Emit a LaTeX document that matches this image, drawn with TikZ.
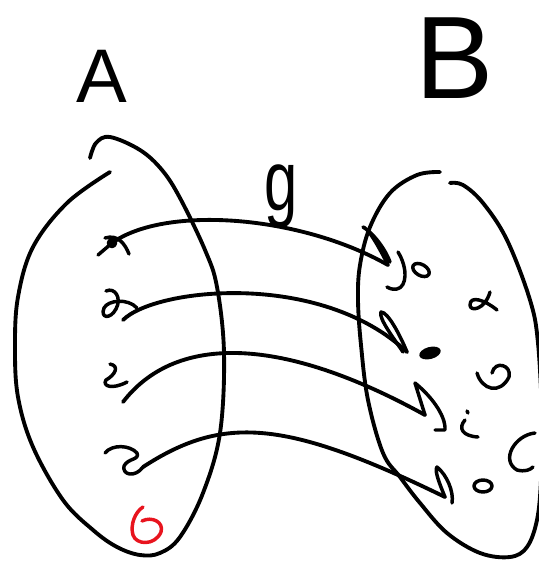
\documentclass[tikz,border=0pt]{standalone}
\usepackage{fontspec}
\setmainfont{Liberation Sans}
\definecolor{inkred}{HTML}{E8141E}
\begin{document}
\begin{tikzpicture}[x=0.75pt,y=-0.75pt,
  ink/.style={line width=2.9pt,line cap=round,line join=round},
  scrib/.style={line width=2.6pt,line cap=round,line join=round},
  lbl/.style={inner sep=0pt,outer sep=0pt}]
\useasboundingbox (0,0) rectangle (539,562);
% labels
\node[lbl,font=\fontsize{57}{60}\selectfont] (labA) at (102,76) {A};
\node[lbl,font=\fontsize{88}{96}\selectfont] (labB) at (455,58) {B};
\node[lbl,font=\fontsize{64}{70}\selectfont,xscale=0.7] (labg) at (281,196) {g};
\begin{scope}
\clip (0,0) rectangle (539,562);
% set A
\draw[ink] plot[smooth,tension=0.6] coordinates {(90,158) (96,143) (110,137) (140,150) (162,170) (180,198) (205,250) (217,287) (224,353) (220,433) (203,493) (180,537) (160,553) (140,555) (117,547) (93,530) (63,500) (33,447) (18,397) (15,347) (18,297) (33,247) (67,203) (110,172)};
% set B
\draw[ink] plot[smooth,tension=0.6] coordinates {(440,172) (417,175) (390,193) (370,227) (360,265) (358,300) (361,345) (368,400) (383,453) (400,477) (420,503) (447,533) (480,553) (510,557) (527,547) (537,520) (541,480) (542,420) (538,343) (530,300) (507,240) (483,203) (463,185) (450,183)};
% element coordinates
\coordinate (a1) at (112,243);
\coordinate (a2) at (123,320);
\coordinate (a3) at (123,402);
\coordinate (a4) at (143,467);
\coordinate (b1) at (388,265);
\coordinate (b2) at (407,352);
\coordinate (b3) at (425,415);
\coordinate (b4) at (445,497);
% left scribbles
\draw[scrib] (98,255) -- (a1);
\draw[scrib] (a1) circle[radius=3.5];
\draw[scrib] (105,238) .. controls (118,234) and (125,244) .. (129,254);
\draw[scrib] (106,291) .. controls (115,287) and (122,298) .. (116,309) .. controls (110,320) and (100,318) .. (104,308) .. controls (108,300) and (128,298) .. (137,308);
\draw[scrib] (110,364) .. controls (120,366) and (115,375) .. (106,380) .. controls (102,386) and (112,390) .. (127,382);
\draw[scrib] (105,453) .. controls (112,444) and (130,445) .. (137,453) .. controls (140,460) and (128,458) .. (124,466) .. controls (122,475) and (135,478) .. (a4);
\draw[scrib,inkred] (143,507) .. controls (135,512) and (130,525) .. (133,535) .. controls (136,545) and (155,546) .. (161,532) .. controls (164,522) and (152,516) .. (142,521);
% mapping g
\draw[ink] (a1) .. controls (165,205) and (300,215) .. (b1);
\draw[ink] (a2) .. controls (155,288) and (320,270) .. (b2);
\draw[ink] (a3) .. controls (173,337) and (275,332) .. (b3);
\draw[ink] (a4) .. controls (223,415) and (285,419) .. (b4);
% hooks
\draw[scrib] (b1) .. controls (378,245) and (368,228) .. (363,227) .. controls (372,232) and (385,248) .. (390,262);
\draw[scrib] (b2) .. controls (400,335) and (388,312) .. (381,312) .. controls (378,318) and (395,340) .. (403,352);
\draw[scrib] (b3) -- (415,383) .. controls (430,395) and (446,415) .. (445,430) -- (435,430);
\draw[scrib] (b4) .. controls (440,485) and (434,470) .. (437,467) .. controls (447,475) and (454,492) .. (452,503);
% right scribbles
\draw[scrib] (398,252) .. controls (408,268) and (407,287) .. (397,289) .. controls (392,290) and (389,288) .. (387,287);
\draw[scrib] (421,270) ellipse[x radius=9,y radius=5.5,rotate=-30];
\fill[rotate around={15:(430,353)}] (430,353) ellipse[x radius=11,y radius=6];
\draw[scrib] (467,411) -- (468,413);
\draw[scrib] (465,420) .. controls (458,428) and (462,436) .. (478,437);
\draw[scrib] (483,486) ellipse[x radius=9,y radius=6];
\draw[scrib] (497,310) .. controls (485,300) and (470,295) .. (470,305) .. controls (470,312) and (485,310) .. (490,292);
\draw[scrib] (477,373) .. controls (482,390) and (500,395) .. (509,377) .. controls (512,365) and (495,360) .. (492,373);
\draw[scrib] (535,433) .. controls (515,435) and (500,460) .. (517,470) .. controls (525,472) and (530,470) .. (533,467);
\end{scope}
\end{tikzpicture}
\end{document}
